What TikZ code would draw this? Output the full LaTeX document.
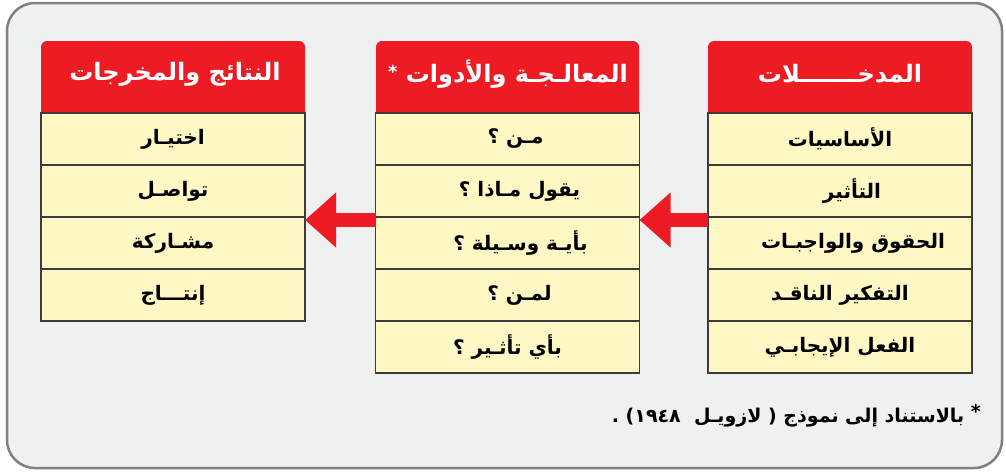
\documentclass[tikz,border=0pt]{standalone}
\usepackage{fontspec}
\newfontfamily\arabicfont[Script=Arabic]{DejaVu Sans}
\TeXXeTstate=1
\usetikzlibrary{arrows.meta}
\definecolor{bg}{HTML}{EFF0F0}
\definecolor{framecol}{HTML}{808080}
\definecolor{hdr}{HTML}{ED1C24}
\definecolor{cellfill}{HTML}{FFF8C5}
\definecolor{cellline}{HTML}{3C3C3C}
\newcommand\ar[1]{{\arabicfont\bfseries\beginR #1\endR}}
\tikzset{
  cell/.style={draw=cellline, fill=cellfill, line width=1.2pt, minimum width=264pt,
    minimum height=52pt, inner sep=0pt, outer sep=0pt, font=\fontsize{20}{22}\selectfont},
  hdrtext/.style={text=white, inner sep=0pt, font=\fontsize{24}{26}\selectfont},
  bigarrow/.style={draw=hdr, line width=14pt, -{Triangle[length=31pt,width=53pt]}},
}
\begin{document}
\begin{tikzpicture}[x=1pt,y=-1pt]
\useasboundingbox (0,0) rectangle (1006,471);
\fill[white] (0,0) rectangle (1006,471);
\draw[framecol, line width=2.5pt, fill=bg, rounded corners=28pt] (7,3) rectangle (1002,468);

% headers
\foreach \xa/\xb in {41/305, 376/639, 708/972}{
  \fill[hdr] (\xa,113) [rounded corners=6pt] -- (\xa,41) -- (\xb,41) [sharp corners] -- (\xb,113) -- cycle;
}
\node[hdrtext] (hL) at (175,74) {\ar{النتائج والمخرجات}};
\node[hdrtext] (hM) at (508,74) {\ar{المعالـجـة والأدوات \raisebox{4pt}{\fontsize{18}{20}\selectfont*}}};
\node[hdrtext] (hR) at (840,74) {\ar{المدخـــــــلات}};

% left column
\node[cell] (l1) at (173,139) {\ar{اختيـار}};
\node[cell] (l2) at (173,191) {\ar{تواصـل}};
\node[cell] (l3) at (173,243) {\ar{مشـاركة}};
\node[cell] (l4) at (173,295) {\ar{إنتـــاج}};

% middle column
\node[cell] (m1) at (507.5,139) {\hspace*{16pt}\ar{مـن ؟}};
\node[cell] (m2) at (507.5,191) {\hspace*{24pt}\ar{يقول مـاذا ؟}};
\node[cell] (m3) at (507.5,243) {\hspace*{26pt}\ar{بأيـة وسـيلة ؟}};
\node[cell] (m4) at (507.5,295) {\hspace*{24pt}\ar{لمـن ؟}};
\node[cell] (m5) at (507.5,347) {\ar{بأي تأثـير ؟}};

% right column
\node[cell] (r1) at (840,139) {\ar{الأساسيات}};
\node[cell] (r2) at (840,191) {\hspace*{24pt}\ar{التأثير}};
\node[cell] (r3) at (840,243) {\hspace*{26pt}\ar{الحقوق والواجبـات}};
\node[cell] (r4) at (840,295) {\ar{التفكير الناقـد}};
\node[cell] (r5) at (840,347) {\ar{الفعل الإيجابـي}};

% arrows
\draw[bigarrow] ([yshift=-3pt]m3.north west) -- ([yshift=-3pt]l3.north east);
\draw[bigarrow] ([yshift=-3pt]r3.north west) -- ([yshift=-3pt]m3.north east);

% footnote
\node[anchor=east, inner sep=0pt, font=\fontsize{19}{21}\selectfont] (fn) at (981,416)
  {\ar{\raisebox{4pt}{*} بالاستناد إلى نموذج ( لازويـل \ \beginL ١٩٤٨\endL{}) .}};
\end{tikzpicture}
\end{document}
